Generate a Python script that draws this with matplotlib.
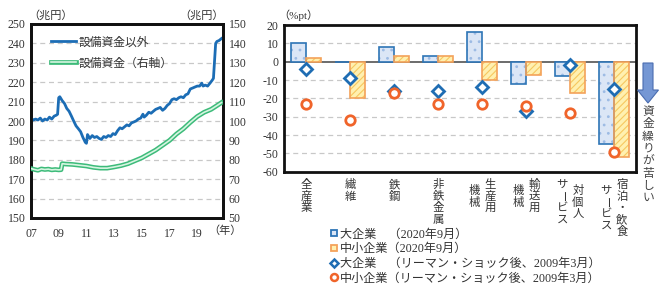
import matplotlib
matplotlib.use("Agg")
import matplotlib.pyplot as plt
from matplotlib.lines import Line2D
import matplotlib.patheffects as pe
from matplotlib.transforms import blended_transform_factory
from matplotlib.patches import FancyArrow

plt.rcParams['font.family'] = ['Liberation Serif', 'Noto Sans CJK JP']
plt.rcParams['axes.unicode_minus'] = False

# ---------------- data: left chart ----------------
blue_years = [2007.00, 2007.17, 2007.33, 2007.50, 2007.67, 2007.83, 2008.00, 2008.17, 2008.33, 2008.50,
              2008.67, 2008.83, 2008.92, 2009.00, 2009.08, 2009.25, 2009.42, 2009.58, 2009.75, 2009.92,
              2010.08, 2010.25, 2010.42, 2010.58, 2010.75, 2010.92, 2011.00, 2011.08, 2011.25, 2011.42,
              2011.58, 2011.75, 2011.92, 2012.08, 2012.25, 2012.42, 2012.58, 2012.75, 2012.92, 2013.08,
              2013.25, 2013.42, 2013.58, 2013.75, 2013.92, 2014.08, 2014.25, 2014.42, 2014.58, 2014.75,
              2014.92, 2015.08, 2015.17, 2015.33, 2015.50, 2015.67, 2015.83, 2016.00, 2016.17, 2016.33,
              2016.50, 2016.67, 2016.83, 2017.00, 2017.17, 2017.33, 2017.50, 2017.67, 2017.83, 2018.00,
              2018.17, 2018.33, 2018.50, 2018.67, 2018.83, 2019.00, 2019.17, 2019.33, 2019.42, 2019.58,
              2019.75, 2019.92, 2020.08, 2020.17, 2020.25, 2020.33, 2020.42, 2020.58, 2020.75]
blue_vals = [201.5, 200.5, 201.0, 200.5, 201.5, 200.0, 201.0, 200.5, 202.0, 201.0,
             202.5, 203.0, 203.5, 212.0, 212.5, 210.5, 209.0, 206.5, 205.0, 202.5,
             200.0, 197.5, 196.0, 194.5, 191.5, 189.0, 188.5, 193.0, 191.0, 192.5,
             191.5, 192.0, 191.0, 190.5, 192.0, 191.5, 192.5, 192.0, 193.5, 193.0,
             195.0, 196.5, 196.0, 197.0, 198.0, 197.5, 199.0, 199.5, 200.0, 201.0,
             201.5, 203.5, 202.0, 203.0, 204.5, 204.0, 205.0, 206.0, 206.5, 207.0,
             205.5, 206.5, 208.0, 209.0, 211.0, 211.5, 211.0, 212.0, 212.5, 212.0,
             213.5, 214.0, 216.5, 217.0, 217.5, 218.0, 218.0, 219.5, 218.0, 218.5,
             218.0, 219.5, 221.0, 222.0, 231.0, 240.0, 241.0, 241.5, 242.5]

green_years = [2007.00, 2007.25, 2007.50, 2007.75, 2008.00, 2008.25, 2008.50, 2008.75, 2009.00, 2009.17,
               2009.25, 2009.50, 2010.00, 2010.50, 2011.00, 2011.50, 2012.00, 2012.50, 2013.00, 2013.50,
               2014.00, 2014.50, 2015.00, 2015.50, 2016.00, 2016.50, 2017.00, 2017.50, 2018.00, 2018.50,
               2019.00, 2019.50, 2020.00, 2020.50, 2020.75]
green_vals = [75.5, 75.0, 74.6, 75.3, 75.0, 75.2, 74.8, 75.0, 74.8, 74.9,
              78.0, 77.8, 77.6, 77.2, 76.8, 76.1, 75.7, 75.7, 76.3, 77.0,
              78.0, 79.5, 81.0, 83.0, 85.0, 87.5, 90.0, 93.3, 96.0, 99.3,
              102.3, 104.5, 106.0, 108.3, 109.5]

left_xticks = [2007, 2009, 2011, 2013, 2015, 2017, 2019]
left_xticklabels = ["07", "09", "11", "13", "15", "17", "19"]

# ---------------- data: right chart ----------------
categories = [["全産業"], ["繊維"], ["鉄鋼"], ["非鉄金属"], ["生産用", "機械"],
              ["輸送用", "機械"], ["対個人", "サービス"], ["宿泊・飲食", "サービス"]]
large_2020 = [10, 0, 8, 3, 16, -12, -8, -45]
small_2020 = [2, -20, 3, 3, -10, -7, -17, -52]
large_2009 = [-4, -9, -16, -16, -14, -27, -2, -15]
small_2009 = [-23, -32, -17, -23, -23, -24, -28, -49]

legend_labels = ["大企業　（2020年9月）", "中小企業（2020年9月）",
                 "大企業　（リーマン・ショック後、2009年3月）", "中小企業（リーマン・ショック後、2009年3月）"]

W, H = 662, 288
fig = plt.figure(figsize=(W / 100, H / 100), dpi=100)

TXT = '#333333'
FS = 8.5

# ---------------- left chart ----------------
axl = fig.add_axes([31 / W, 1 - 218 / H, (223 - 31) / W, (218 - 24) / H])
axr2 = axl.twinx()
axl.set_xlim(2007, 2020.86)
axl.set_ylim(150, 250)
axr2.set_ylim(50, 150)
axl.set_yticks(range(150, 251, 10))
axr2.set_yticks(range(50, 151, 10))
for y in range(160, 250, 10):
    axl.axhline(y, color='#c8c8c8', lw=0.9, ls=(0, (4, 3)), zorder=0)
axl.set_xticks(left_xticks)
axl.set_xticklabels(left_xticklabels)
for a in (axl, axr2):
    a.tick_params(length=0, labelsize=FS, colors=TXT, pad=4)
    for s in a.spines.values():
        s.set_linewidth(2.0)
        s.set_color('#111111')
axl.tick_params(axis='x', pad=7)

l1, = axl.plot(blue_years, blue_vals, color='#1c6db5', lw=2.0, label="設備資金以外", zorder=3)
l2, = axr2.plot(green_years, green_vals, color='#d6f5e1', lw=1.2, label="設備資金（右軸）", zorder=3,
                path_effects=[pe.Stroke(linewidth=3.4, foreground='#3dbb7a'), pe.Normal()])
axl.legend([l1, l2], ["設備資金以外", "設備資金（右軸）"], loc='upper left',
           bbox_to_anchor=(0.05, 0.99), frameon=False, fontsize=FS, handlelength=2.1,
           handletextpad=0.25, labelspacing=0.75, labelcolor=TXT)

fig.text(28 / W, 1 - 15 / H, "（兆円）", fontsize=FS - 0.5, color=TXT, ha='left', va='center')
fig.text(224 / W, 1 - 15 / H, "（兆円）", fontsize=FS - 0.5, color=TXT, ha='right', va='center')
fig.text(208 / W, 1 - 231 / H, "（年）", fontsize=FS - 0.5, color=TXT, ha='left', va='center')

# ---------------- right chart ----------------
ax = fig.add_axes([284 / W, 1 - 171.7 / H, (636 - 284) / W, (171.7 - 25) / H])
n = len(categories)
xs = list(range(n))
ax.set_xlim(-0.5, n - 0.5)
ax.set_ylim(-60, 20)
ax.set_yticks(range(-60, 21, 10))
ax.set_xticks([])
ax.tick_params(length=0, labelsize=FS, colors=TXT, pad=4)
for s in ax.spines.values():
    s.set_linewidth(2.0)
    s.set_color('#111111')
for y in range(-50, 20, 10):
    if y != 0:
        ax.axhline(y, color='#c8c8c8', lw=0.9, ls=(0, (4, 3)), zorder=0)
ax.axhline(0, color='#444444', lw=1.1, zorder=2)

bw = 0.34
plt.rcParams['hatch.linewidth'] = 0.8
ax.bar(xs, large_2020, width=-bw, align='edge', facecolor='#dbe6f6', edgecolor='#9dbbe4',
       hatch='..', lw=0, zorder=3)
ax.bar(xs, large_2020, width=-bw, align='edge', fill=False, edgecolor='#2e75b6', lw=1.2, zorder=4)
ax.bar(xs, small_2020, width=bw, align='edge', facecolor='#fff0b0', edgecolor='#f6c85f',
       hatch='/////', lw=0, zorder=3)
ax.bar(xs, small_2020, width=bw, align='edge', fill=False, edgecolor='#f4a25a', lw=1.2, zorder=4)
ax.plot(xs, large_2009, ls='none', marker='D', ms=6.2, mfc='white', mec='#1f6db3', mew=2.0, zorder=5)
ax.plot(xs, small_2009, ls='none', marker='o', ms=6.8, mfc='white', mec='#f0642a', mew=2.0, zorder=6)

fig.text(278 / W, 1 - 15 / H, "（%pt）", fontsize=FS - 0.5, color=TXT, ha='left', va='center')

# vertical (tategaki) category labels
tr = blended_transform_factory(ax.transData, fig.transFigure)
step = 11.6
top = 179
colw = 0.18
for i, cols in enumerate(categories):
    ncol = len(cols)
    maxlen = max(len(c) for c in cols)
    for j, col in enumerate(cols):
        # first column is the rightmost
        xoff = 0 if ncol == 1 else (colw if j == 0 else -colw)
        yoff = (maxlen - len(col)) * step / 2
        for k, ch in enumerate(col):
            ypx = top + yoff + step * (k + 0.5)
            rot = -90 if ch == 'ー' else 0
            fig.text(xs[i] + xoff, 1 - ypx / H, ch, transform=tr, fontsize=FS - 0.3,
                     color=TXT, ha='center', va='center', rotation=rot,
                     family=['Noto Sans CJK JP'])

# arrow and note on the right
arr = FancyArrow(648 / W, 1 - 63 / H, 0, -(40 / H), width=10 / W, head_width=21 / W,
                 head_length=13 / H, length_includes_head=True, transform=fig.transFigure,
                 facecolor='#7597d4', edgecolor='#4a6db0', lw=0.8)
fig.patches.append(arr)
note = "資金繰りが苦しい"
for k, ch in enumerate(note):
    fig.text(648 / W, 1 - (111.5 + 12.3 * k) / H, ch, fontsize=FS, color='#444444',
             ha='center', va='center', family=['Noto Sans CJK JP'])

# bottom legend
handles = [
    Line2D([], [], ls='none', marker='s', ms=5, mfc='#dbe6f6', mec='#2e75b6', mew=1.3),
    Line2D([], [], ls='none', marker='s', ms=5, mfc='#fff0b0', mec='#f4a25a', mew=1.3),
    Line2D([], [], ls='none', marker='D', ms=4.5, mfc='white', mec='#1f6db3', mew=1.8),
    Line2D([], [], ls='none', marker='o', ms=5, mfc='white', mec='#f0642a', mew=1.8),
]
fig.legend(handles, legend_labels, loc='upper left', bbox_to_anchor=(330 / W, 1 - 228.5 / H),
           frameon=False, fontsize=FS + 0.2, handlelength=0.6, handletextpad=0.25,
           labelspacing=0.22, borderpad=0, borderaxespad=0, labelcolor=TXT)

fig.savefig("out.png", dpi=100)
